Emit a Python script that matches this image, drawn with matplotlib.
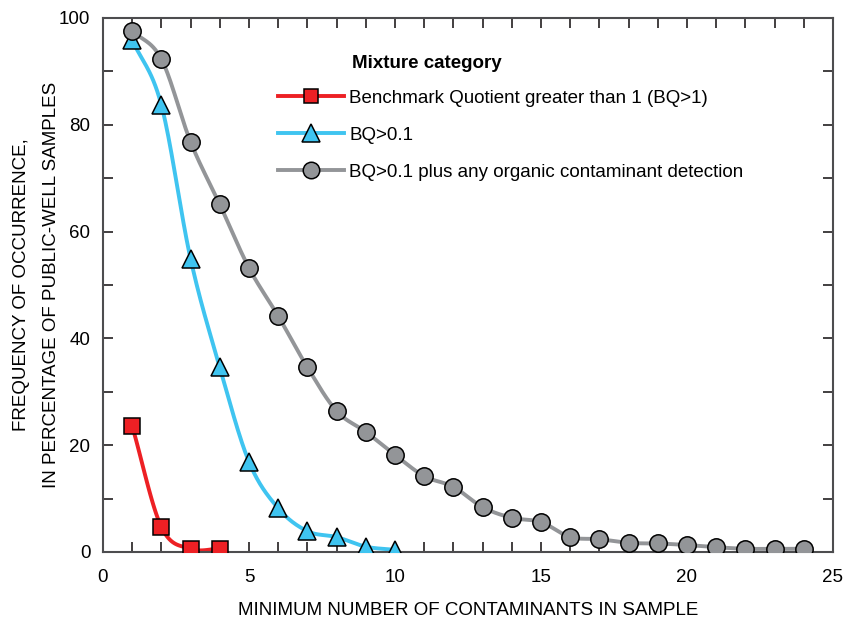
import numpy as np
import matplotlib
matplotlib.use("Agg")
import matplotlib.pyplot as plt
from matplotlib.ticker import MultipleLocator

plt.rcParams['font.family'] = ['Liberation Sans', 'DejaVu Sans']

# data
bq1_x = [1, 2, 3, 4]
bq1_y = [23.6, 4.7, 0.6, 0.6]

bq01_x = [1, 2, 3, 4, 5, 6, 7, 8, 9, 10]
bq01_y = [95.9, 83.7, 54.9, 34.6, 16.9, 8.2, 3.9, 2.8, 1.0, 0.4]

org_x = list(range(1, 25))
org_y = [97.6, 92.3, 76.8, 65.1, 53.2, 44.2, 34.6, 26.4, 22.5, 18.2,
         14.2, 12.2, 8.4, 6.4, 5.6, 2.8, 2.4, 1.7, 1.6, 1.3,
         0.9, 0.6, 0.6, 0.6]

labels = ["Benchmark Quotient greater than 1 (BQ>1)",
          "BQ>0.1",
          "BQ>0.1 plus any organic contaminant detection"]


def smooth(x, y, n=30):
    # catmull-rom curve through the points, only for drawing the line
    x = np.asarray(x, float)
    y = np.asarray(y, float)
    m = np.gradient(y, x)
    xs, ys = [], []
    for i in range(len(x) - 1):
        h = x[i + 1] - x[i]
        t = np.linspace(0, 1, n)
        h00 = 2 * t**3 - 3 * t**2 + 1
        h10 = t**3 - 2 * t**2 + t
        h01 = -2 * t**3 + 3 * t**2
        h11 = t**3 - t**2
        xs.append(x[i] + t * h)
        ys.append(h00 * y[i] + h10 * h * m[i] + h01 * y[i + 1] + h11 * h * m[i + 1])
    return np.concatenate(xs), np.concatenate(ys)


fig = plt.figure(figsize=(8.46, 6.24), dpi=100)
ax = fig.add_axes([0.1217, 0.1154, 0.8629, 0.8558])

series = [
    (bq1_x, bq1_y, '#ED2024', 's', 11),
    (bq01_x, bq01_y, '#3FC4F0', '^', 13),
    (org_x, org_y, '#939598', 'o', 12.5),
]
handles = []
for (x, y, c, mk, ms), lab in zip(series, labels):
    sx, sy = smooth(x, y)
    ax.plot(sx, sy, color=c, lw=2.8, zorder=2)
    ax.plot(x, y, linestyle='none', marker=mk, ms=ms, mfc=c, mec='black',
            mew=1.1, zorder=3)
    h, = ax.plot([], [], color=c, lw=2.8, marker=mk, ms=ms * 0.95,
                 mfc=c, mec='black', mew=1.1, label=lab)
    handles.append(h)

ax.set_xlim(0, 25)
ax.set_ylim(0, 100)
ax.xaxis.set_major_locator(MultipleLocator(5))
ax.xaxis.set_minor_locator(MultipleLocator(1))
ax.yaxis.set_major_locator(MultipleLocator(20))
ax.yaxis.set_minor_locator(MultipleLocator(10))
ax.tick_params(which='both', direction='in', top=True, right=True,
               length=7, width=1.2, color='#231F20', labelsize=13.5)
ax.tick_params(axis='x', pad=12)
ax.tick_params(axis='y', pad=9)
for s in ax.spines.values():
    s.set_linewidth(1.5)
    s.set_color('#4D4D4F')

ax.set_xlabel("MINIMUM NUMBER OF CONTAMINANTS IN SAMPLE", fontsize=13.5, labelpad=12)
ax.set_ylabel("FREQUENCY OF OCCURRENCE,\nIN PERCENTAGE OF PUBLIC-WELL SAMPLES",
              fontsize=13.5, linespacing=2.0, va='center')
ax.yaxis.set_label_coords(-0.091, 0.5)

ax.text(0.341, 0.915, "Mixture category", transform=ax.transAxes,
        fontsize=13.5, fontweight='bold', va='center', ha='left')
ax.legend(handles=handles, loc='upper left', bbox_to_anchor=(0.24, 0.866),
          frameon=False, fontsize=13.5, handlelength=3.5, handletextpad=0.3,
          labelspacing=1.06, borderaxespad=0, borderpad=0)

fig.savefig("out.png", dpi=100)
